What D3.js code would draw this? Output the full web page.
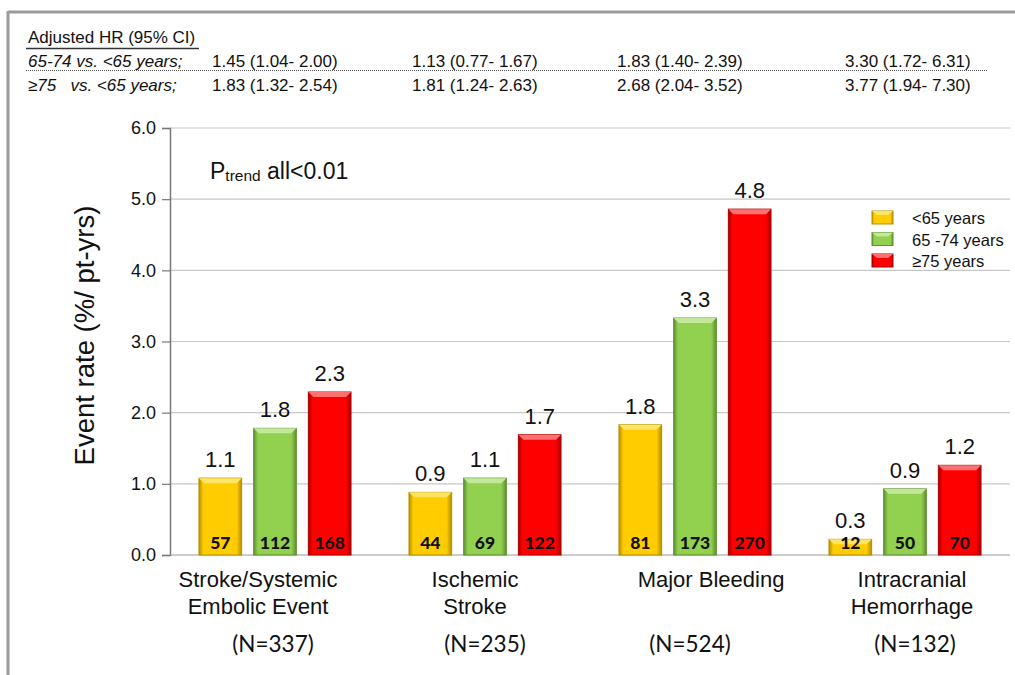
<!DOCTYPE html>
<html>
<head>
<meta charset="utf-8">
<script src="https://cdn.jsdelivr.net/npm/d3@7"></script>
<style>
  body { margin: 0; background: #fff; }
  svg { display: block; font-family: "Liberation Sans", Arial, sans-serif; }
</style>
</head>
<body>
<div id="chart"></div>
<script>
// categories and groups
const categories = ["Stroke/Systemic Embolic Event", "Ischemic Stroke", "Major Bleeding", "Intracranial Hemorrhage"];
const catLines = [["Stroke/Systemic", "Embolic Event"], ["Ischemic", "Stroke"], ["Major Bleeding"], ["Intracranial", "Hemorrhage"]];
const catN = ["(N=337)", "(N=235)", "(N=524)", "(N=132)"];
const groups = ["<65 years", "65 -74 years", "\u226575 years"];

// event rates (bar heights) and the printed labels
const rateUnder65 = [1.08, 0.88, 1.83, 0.22];
const rate65to74 = [1.78, 1.08, 3.33, 0.93];
const rateOver75 = [2.29, 1.69, 4.86, 1.26];
const labelUnder65 = ["1.1", "0.9", "1.8", "0.3"];
const label65to74 = ["1.8", "1.1", "3.3", "0.9"];
const labelOver75 = ["2.3", "1.7", "4.8", "1.2"];
const countUnder65 = [57, 44, 81, 12];
const count65to74 = [112, 69, 173, 50];
const countOver75 = [168, 122, 270, 70];

// hazard ratio table
const hrRowLabels = ["65-74 vs. <65 years;", "\u226575   vs. <65 years;"];
const hr65to74 = ["1.45 (1.04- 2.00)", "1.13 (0.77- 1.67)", "1.83 (1.40- 2.39)", "3.30 (1.72- 6.31)"];
const hrOver75 = ["1.83 (1.32- 2.54)", "1.81 (1.24- 2.63)", "2.68 (2.04- 3.52)", "3.77 (1.94- 7.30)"];
const yTicks = [0, 1, 2, 3, 4, 5, 6];

const W = 1015, H = 675;
const svg = d3.select("#chart").append("svg").attr("width", W).attr("height", H);

const colors = [
    { base: "#ffcc00", dark: "#b58f00", light: "#ffe566" },
    { base: "#92d050", dark: "#5f8f33", light: "#c2e89c" },
    { base: "#ff0000", dark: "#a80000", light: "#ff7070" }
];

// gradients for bevel look
let defs = svg.append("defs");
colors.forEach((c, i) => {
    let g = defs.append("linearGradient").attr("id", "grad" + i).attr("x1", 0).attr("x2", 1).attr("y1", 0).attr("y2", 0);
    g.append("stop").attr("offset", "0%").attr("stop-color", c.dark);
    g.append("stop").attr("offset", "10%").attr("stop-color", c.base);
    g.append("stop").attr("offset", "88%").attr("stop-color", c.base);
    g.append("stop").attr("offset", "100%").attr("stop-color", c.dark);
});

// frame
svg.append("line").attr("x1", 8).attr("x2", W).attr("y1", 12).attr("y2", 12).attr("stroke", "#9a9a9a").attr("stroke-width", 3);
svg.append("line").attr("x1", 8).attr("x2", 8).attr("y1", 11).attr("y2", H).attr("stroke", "#9a9a9a").attr("stroke-width", 3);

// table
let tableX = [212, 412, 617, 845];
svg.append("text").attr("x", 28).attr("y", 43).attr("font-size", 17).attr("fill", "#111").text("Adjusted HR (95% CI)");
svg.append("line").attr("x1", 26).attr("x2", 199).attr("y1", 48.5).attr("y2", 48.5).attr("stroke", "#333").attr("stroke-width", 1.3);
svg.append("line").attr("x1", 26).attr("x2", 988).attr("y1", 70.5).attr("y2", 70.5).attr("stroke", "#555").attr("stroke-dasharray", "1,1");
[hr65to74, hrOver75].forEach((row, r) => {
    let y = 67 + r * 24;
    svg.append("text").attr("x", 28).attr("y", y).attr("font-size", 17).attr("font-style", "italic").attr("fill", "#111")
        .style("white-space", "pre").text(hrRowLabels[r]);
    row.forEach((t, i) => svg.append("text").attr("x", tableX[i]).attr("y", y).attr("font-size", 17).attr("fill", "#111").text(t));
});

// scales
const x0 = d3.scaleBand().domain(categories).range([170, 1010]);
const x1 = d3.scaleBand().domain(groups).range([0, x0.bandwidth()]).paddingInner(0.22).paddingOuter(0.53);
const y = d3.scaleLinear().domain([0, 6]).range([555, 128]);

// grid
svg.append("g").selectAll("line").data(yTicks.filter(d => d > 0)).join("line")
    .attr("x1", 170).attr("x2", 1010).attr("y1", d => y(d)).attr("y2", d => y(d))
    .attr("stroke", "#c8c8c8").attr("stroke-width", 1.2);

// y axis
let yAxis = svg.append("g").attr("transform", "translate(170,0)")
    .call(d3.axisLeft(y).tickValues(yTicks).tickFormat(d3.format(".1f")).tickSize(8).tickPadding(6));
yAxis.select(".domain").attr("stroke", "#777").attr("stroke-width", 1.5);
yAxis.selectAll(".tick line").attr("stroke", "#777").attr("stroke-width", 1.2);
yAxis.selectAll(".tick text").attr("font-size", 18).attr("fill", "#111").attr("font-family", "Liberation Sans, Arial, sans-serif");
svg.append("line").attr("x1", 170).attr("x2", 1010).attr("y1", y(0)).attr("y2", y(0)).attr("stroke", "#999").attr("stroke-width", 1.2);

svg.append("text").attr("transform", "translate(94," + (y(3) - 6) + ") rotate(-90)")
    .attr("text-anchor", "middle").attr("font-size", 27.5).attr("fill", "#111").text("Event rate (%/ pt-yrs)");

// bars
let series = [
    { rates: rateUnder65, labels: labelUnder65, counts: countUnder65 },
    { rates: rate65to74, labels: label65to74, counts: count65to74 },
    { rates: rateOver75, labels: labelOver75, counts: countOver75 }
];
let barData = [];
categories.forEach((c, ci) => {
    groups.forEach((g, gi) => {
        barData.push({ cat: c, group: g, gi: gi, value: series[gi].rates[ci], label: series[gi].labels[ci], count: series[gi].counts[ci] });
    });
});

let bw = x1.bandwidth();
let barG = svg.append("g").selectAll("g").data(barData).join("g")
    .attr("transform", d => "translate(" + (x0(d.cat) + x1(d.group)) + ",0)");

barG.append("rect").attr("x", 0).attr("y", d => y(d.value)).attr("width", bw).attr("height", d => y(0) - y(d.value))
    .attr("fill", d => "url(#grad" + d.gi + ")").attr("stroke", d => colors[d.gi].dark).attr("stroke-width", 1);
// top highlight bevel
barG.append("path").attr("d", d => {
    let t = y(d.value), b = Math.min(5, (y(0) - t) / 2);
    return "M0," + t + "L" + bw + "," + t + "L" + (bw - b) + "," + (t + b) + "L" + b + "," + (t + b) + "Z";
}).attr("fill", d => colors[d.gi].light);

barG.append("text").attr("x", bw / 2).attr("y", d => y(d.value) - 11).attr("text-anchor", "middle")
    .attr("font-size", 22).attr("fill", "#111").text(d => d.label);
barG.append("text").attr("x", bw / 2).attr("y", 549).attr("text-anchor", "middle")
    .attr("font-family", "Lato, 'Open Sans', sans-serif").attr("font-weight", 900).attr("font-size", 17.5).attr("fill", "#111")
    .text(d => d.count);

// category labels
categories.forEach((c, ci) => {
    let cx = x0(c) + x0.bandwidth() / 2;
    let shift = [-17, -10, 16, 7][ci];
    catLines[ci].forEach((l, li) => {
        svg.append("text").attr("x", cx + shift).attr("y", 587 + li * 26.5).attr("text-anchor", "middle")
            .attr("font-size", 22).attr("fill", "#111").text(l);
    });
    svg.append("text").attr("x", cx + [-2, 0, -5, 10][ci]).attr("y", 652).attr("text-anchor", "middle")
        .attr("font-family", "Lato, 'Open Sans', sans-serif").attr("font-size", 22.5).attr("fill", "#111").text(catN[ci]);
});

// p trend
let pt = svg.append("text").attr("x", 210).attr("y", 179).attr("font-size", 23).attr("fill", "#111");
pt.append("tspan").text("P");
pt.append("tspan").attr("font-size", 15.5).attr("dy", 2).text("trend");
pt.append("tspan").attr("dy", -2).text(" all<0.01");

// legend
let leg = svg.append("g").attr("transform", "translate(872,211)");
groups.forEach((g, i) => {
    let row = leg.append("g").attr("transform", "translate(0," + (i * 21.5) + ")");
    row.append("rect").attr("width", 21).attr("height", 13).attr("fill", "url(#grad" + i + ")").attr("stroke", colors[i].dark);
    row.append("path").attr("d", "M0,0L21,0L16,4L5,4Z").attr("fill", colors[i].light);
    row.append("text").attr("x", 40).attr("y", 13).attr("font-size", 16.5).attr("fill", "#111").text(g);
});
</script>
</body>
</html>
